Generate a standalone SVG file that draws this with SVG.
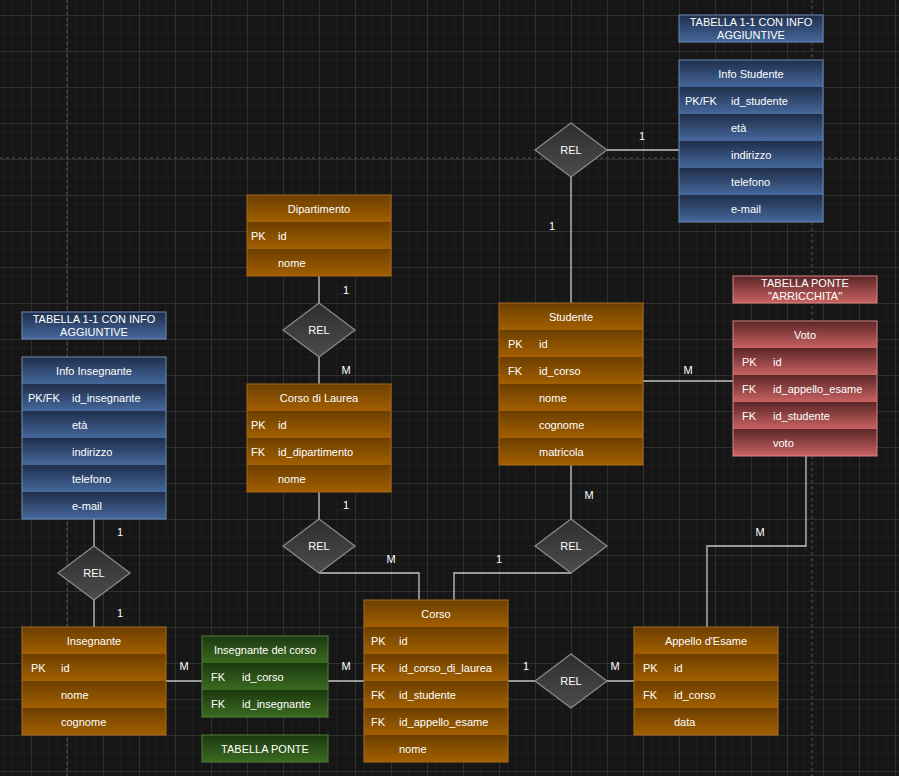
<svg xmlns="http://www.w3.org/2000/svg" width="899" height="776" viewBox="0 0 899 776">
<defs>
<pattern id="grid" patternUnits="userSpaceOnUse" x="31" y="15" width="36" height="36">
<rect width="36" height="36" fill="#161616"/>
<path d="M9 0V36M18 0V36M27 0V36M0 9H36M0 18H36M0 27H36" stroke="#1e1e1e" stroke-width="1"/>
<path d="M0.5 0V36M0 0.5H36" stroke="#303030" stroke-width="1"/>
</pattern>
<linearGradient id="gO" x1="0" y1="0" x2="0" y2="1"><stop offset="0" stop-color="#6b3f00"/><stop offset="1" stop-color="#a35f00"/></linearGradient>
<linearGradient id="gB" x1="0" y1="0" x2="0" y2="1"><stop offset="0" stop-color="#1f2e4a"/><stop offset="1" stop-color="#45689c"/></linearGradient>
<linearGradient id="gR" x1="0" y1="0" x2="0" y2="1"><stop offset="0" stop-color="#5a2626"/><stop offset="1" stop-color="#c96262"/></linearGradient>
<linearGradient id="gG" x1="0" y1="0" x2="0" y2="1"><stop offset="0" stop-color="#1c3810"/><stop offset="1" stop-color="#3a6b20"/></linearGradient>
<linearGradient id="gD" x1="0" y1="0" x2="0" y2="1"><stop offset="0" stop-color="#2e2e2e"/><stop offset="1" stop-color="#4c4c4c"/></linearGradient>
</defs>
<style>
text{font-family:"Liberation Sans",Arial,sans-serif;font-size:11px;fill:#ffffff}
.c{text-anchor:middle}
.o{fill:url(#gO)}
.b{fill:url(#gB)}
.r{fill:url(#gR)}
.g{fill:url(#gG)}
.bo{fill:none;stroke:#a86a1a;stroke-width:1}
.bb{fill:none;stroke:#6d8bb8;stroke-width:1}
.br{fill:none;stroke:#d88282;stroke-width:1}
.bg{fill:none;stroke:#4f7f35;stroke-width:1}
.dia{fill:url(#gD);stroke:#8c8c8c;stroke-width:1.2}
.conn{fill:none;stroke:#c4c4c4;stroke-width:1.3}
.dash{stroke:#555;stroke-width:1;stroke-dasharray:3 3;fill:none}
.lbl{text-anchor:middle;font-size:11px}
</style>
<rect x="0" y="0" width="899" height="776" fill="url(#grid)"/>
<g id="pagebreaks">
<line class="dash" x1="67" y1="0" x2="67" y2="776"/>
<line class="dash" x1="812" y1="0" x2="812" y2="776"/>
<line class="dash" x1="0" y1="158" x2="899" y2="158"/>
</g>
<g id="connectors">
<path class="conn" d="M607 150H679"/>
<path class="conn" d="M571 177V303"/>
<path class="conn" d="M643 381H733"/>
<path class="conn" d="M806 456V546H707V627"/>
<path class="conn" d="M508 681H535M607 681H634"/>
<path class="conn" d="M166 681H202M328 681H364"/>
<path class="conn" d="M94 519V546M94 600V627"/>
<path class="conn" d="M319 276V303M319 357V384"/>
<path class="conn" d="M319 492V519"/>
<path class="conn" d="M319 573H419V600"/>
<path class="conn" d="M571 465V519"/>
<path class="conn" d="M571 573H454V600"/>
<text class="lbl" x="642" y="140">1</text>
<text class="lbl" x="552" y="230">1</text>
<text class="lbl" x="688" y="374">M</text>
<text class="lbl" x="760" y="536">M</text>
<text class="lbl" x="526" y="670">1</text>
<text class="lbl" x="615" y="670">M</text>
<text class="lbl" x="184" y="670">M</text>
<text class="lbl" x="346" y="670">M</text>
<text class="lbl" x="120" y="536">1</text>
<text class="lbl" x="120" y="617">1</text>
<text class="lbl" x="346" y="294">1</text>
<text class="lbl" x="346" y="374">M</text>
<text class="lbl" x="346" y="509">1</text>
<text class="lbl" x="391" y="563">M</text>
<text class="lbl" x="499" y="563">1</text>
<text class="lbl" x="589" y="499">M</text>
</g>
<g id="rel-studente-info">
<polygon class="dia" points="571,123 607,150 571,177 535,150"/>
<text class="c" x="571" y="154">REL</text>
</g>
<g id="rel-dip-cdl">
<polygon class="dia" points="319,303 355,330 319,357 283,330"/>
<text class="c" x="319" y="334">REL</text>
</g>
<g id="rel-cdl-corso">
<polygon class="dia" points="319,519 355,546 319,573 283,546"/>
<text class="c" x="319" y="550">REL</text>
</g>
<g id="rel-studente-corso">
<polygon class="dia" points="571,519 607,546 571,573 535,546"/>
<text class="c" x="571" y="550">REL</text>
</g>
<g id="rel-corso-appello">
<polygon class="dia" points="571,654 607,681 571,708 535,681"/>
<text class="c" x="571" y="685">REL</text>
</g>
<g id="rel-info-insegnante">
<polygon class="dia" points="94,546 130,573 94,600 58,573"/>
<text class="c" x="94" y="577">REL</text>
</g>
<g id="label-info-studente">
<rect class="b" x="679" y="15" width="144" height="27"/>
<rect class="bb" x="679" y="15" width="144" height="27"/>
<text class="c" x="751" y="26">TABELLA 1-1 CON INFO</text>
<text class="c" x="751" y="39">AGGIUNTIVE</text>
</g>
<g id="info-studente">
<rect class="b" x="679" y="60" width="144" height="27"/>
<rect class="b" x="679" y="87" width="144" height="27"/>
<rect class="b" x="679" y="114" width="144" height="27"/>
<rect class="b" x="679" y="141" width="144" height="27"/>
<rect class="b" x="679" y="168" width="144" height="27"/>
<rect class="b" x="679" y="195" width="144" height="27"/>
<rect class="bb" x="679" y="60" width="144" height="162"/>
<text class="c" x="751" y="78">Info Studente</text>
<text x="685" y="105">PK/FK</text><text x="731" y="105">id_studente</text>
<text x="731" y="132">età</text>
<text x="731" y="159">indirizzo</text>
<text x="731" y="186">telefono</text>
<text x="731" y="213">e-mail</text>
</g>
<g id="dipartimento">
<rect class="o" x="247" y="195" width="144" height="27"/>
<rect class="o" x="247" y="222" width="144" height="27"/>
<rect class="o" x="247" y="249" width="144" height="27"/>
<rect class="bo" x="247" y="195" width="144" height="81"/>
<text class="c" x="319" y="213">Dipartimento</text>
<text x="251" y="240">PK</text><text x="278" y="240">id</text>
<text x="278" y="267">nome</text>
</g>
<g id="corso-di-laurea">
<rect class="o" x="247" y="384" width="144" height="27"/>
<rect class="o" x="247" y="411" width="144" height="27"/>
<rect class="o" x="247" y="438" width="144" height="27"/>
<rect class="o" x="247" y="465" width="144" height="27"/>
<rect class="bo" x="247" y="384" width="144" height="108"/>
<text class="c" x="319" y="402">Corso di Laurea</text>
<text x="251" y="429">PK</text><text x="278" y="429">id</text>
<text x="251" y="456">FK</text><text x="278" y="456">id_dipartimento</text>
<text x="278" y="483">nome</text>
</g>
<g id="studente">
<rect class="o" x="499" y="303" width="144" height="27"/>
<rect class="o" x="499" y="330" width="144" height="27"/>
<rect class="o" x="499" y="357" width="144" height="27"/>
<rect class="o" x="499" y="384" width="144" height="27"/>
<rect class="o" x="499" y="411" width="144" height="27"/>
<rect class="o" x="499" y="438" width="144" height="27"/>
<rect class="bo" x="499" y="303" width="144" height="162"/>
<text class="c" x="571" y="321">Studente</text>
<text x="508" y="348">PK</text><text x="539" y="348">id</text>
<text x="508" y="375">FK</text><text x="539" y="375">id_corso</text>
<text x="539" y="402">nome</text>
<text x="539" y="429">cognome</text>
<text x="539" y="456">matricola</text>
</g>
<g id="label-voto">
<rect class="r" x="733" y="276" width="144" height="27"/>
<rect class="br" x="733" y="276" width="144" height="27"/>
<text class="c" x="805" y="287">TABELLA PONTE</text>
<text class="c" x="805" y="300">"ARRICCHITA"</text>
</g>
<g id="voto">
<rect class="r" x="733" y="321" width="144" height="27"/>
<rect class="r" x="733" y="348" width="144" height="27"/>
<rect class="r" x="733" y="375" width="144" height="27"/>
<rect class="r" x="733" y="402" width="144" height="27"/>
<rect class="r" x="733" y="429" width="144" height="27"/>
<rect class="br" x="733" y="321" width="144" height="135"/>
<text class="c" x="805" y="339">Voto</text>
<text x="742" y="366">PK</text><text x="773" y="366">id</text>
<text x="742" y="393">FK</text><text x="773" y="393">id_appello_esame</text>
<text x="742" y="420">FK</text><text x="773" y="420">id_studente</text>
<text x="773" y="447">voto</text>
</g>
<g id="label-info-insegnante">
<rect class="b" x="22" y="312" width="144" height="27"/>
<rect class="bb" x="22" y="312" width="144" height="27"/>
<text class="c" x="94" y="323">TABELLA 1-1 CON INFO</text>
<text class="c" x="94" y="336">AGGIUNTIVE</text>
</g>
<g id="info-insegnante">
<rect class="b" x="22" y="357" width="144" height="27"/>
<rect class="b" x="22" y="384" width="144" height="27"/>
<rect class="b" x="22" y="411" width="144" height="27"/>
<rect class="b" x="22" y="438" width="144" height="27"/>
<rect class="b" x="22" y="465" width="144" height="27"/>
<rect class="b" x="22" y="492" width="144" height="27"/>
<rect class="bb" x="22" y="357" width="144" height="162"/>
<text class="c" x="94" y="375">Info Insegnante</text>
<text x="28" y="402">PK/FK</text><text x="72" y="402">id_insegnante</text>
<text x="72" y="429">età</text>
<text x="72" y="456">indirizzo</text>
<text x="72" y="483">telefono</text>
<text x="72" y="510">e-mail</text>
</g>
<g id="insegnante">
<rect class="o" x="22" y="627" width="144" height="27"/>
<rect class="o" x="22" y="654" width="144" height="27"/>
<rect class="o" x="22" y="681" width="144" height="27"/>
<rect class="o" x="22" y="708" width="144" height="27"/>
<rect class="bo" x="22" y="627" width="144" height="108"/>
<text class="c" x="94" y="645">Insegnante</text>
<text x="31" y="672">PK</text><text x="61" y="672">id</text>
<text x="61" y="699">nome</text>
<text x="61" y="726">cognome</text>
</g>
<g id="insegnante-del-corso">
<rect class="g" x="202" y="636" width="126" height="27"/>
<rect class="g" x="202" y="663" width="126" height="27"/>
<rect class="g" x="202" y="690" width="126" height="27"/>
<rect class="bg" x="202" y="636" width="126" height="81"/>
<text class="c" x="265" y="654">Insegnante del corso</text>
<text x="211" y="681">FK</text><text x="242" y="681">id_corso</text>
<text x="211" y="708">FK</text><text x="242" y="708">id_insegnante</text>
</g>
<g id="label-tabella-ponte">
<rect class="g" x="202" y="735" width="126" height="27"/>
<rect class="bg" x="202" y="735" width="126" height="27"/>
<text class="c" x="265" y="753">TABELLA PONTE</text>
</g>
<g id="corso">
<rect class="o" x="364" y="600" width="144" height="27"/>
<rect class="o" x="364" y="627" width="144" height="27"/>
<rect class="o" x="364" y="654" width="144" height="27"/>
<rect class="o" x="364" y="681" width="144" height="27"/>
<rect class="o" x="364" y="708" width="144" height="27"/>
<rect class="o" x="364" y="735" width="144" height="27"/>
<rect class="bo" x="364" y="600" width="144" height="162"/>
<text class="c" x="436" y="618">Corso</text>
<text x="371" y="645">PK</text><text x="399" y="645">id</text>
<text x="371" y="672">FK</text><text x="399" y="672">id_corso_di_laurea</text>
<text x="371" y="699">FK</text><text x="399" y="699">id_studente</text>
<text x="371" y="726">FK</text><text x="399" y="726">id_appello_esame</text>
<text x="399" y="753">nome</text>
</g>
<g id="appello-esame">
<rect class="o" x="634" y="627" width="144" height="27"/>
<rect class="o" x="634" y="654" width="144" height="27"/>
<rect class="o" x="634" y="681" width="144" height="27"/>
<rect class="o" x="634" y="708" width="144" height="27"/>
<rect class="bo" x="634" y="627" width="144" height="108"/>
<text class="c" x="706" y="645">Appello d'Esame</text>
<text x="643" y="672">PK</text><text x="674" y="672">id</text>
<text x="643" y="699">FK</text><text x="674" y="699">id_corso</text>
<text x="674" y="726">data</text>
</g>
</svg>
